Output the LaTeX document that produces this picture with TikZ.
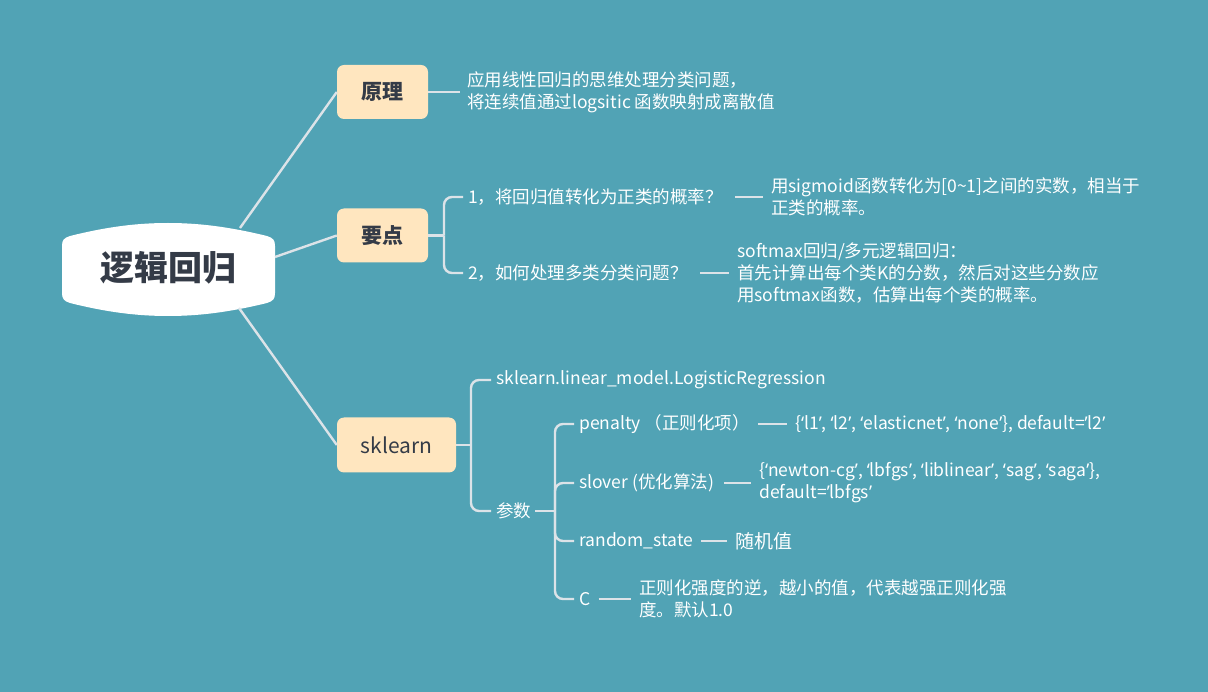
\documentclass[tikz,border=0pt]{standalone}
\usepackage{fontspec}
\setmainfont{Noto Sans CJK SC}
\newfontfamily\qfont{Noto Sans}
\newcommand\myoq{{\qfont ‘}}
\newcommand\mycq{{\qfont ’}}
\usetikzlibrary{calc}
\definecolor{bg}{HTML}{51A3B5}
\definecolor{boxfill}{HTML}{FFE6BF}
\definecolor{dark}{HTML}{343B47}
\definecolor{ln}{HTML}{DCE3E8}
\begin{document}
\begin{tikzpicture}[x=1pt,y=-1pt,
  conn/.style={draw=ln,line width=2.4pt},
  link/.style={conn,shorten <=10pt,shorten >=6pt},
  branch/.style={conn,rounded corners=8pt,shorten >=3pt},
  topic/.style={rectangle,rounded corners=7pt,fill=boxfill,text=dark,minimum height=54pt,inner sep=0pt},
  leaf/.style={text=white,anchor=west,inner sep=2pt,align=left,font=\fontsize{17.5}{22}\selectfont},
]
\fill[bg] (0,0) rectangle (1208,692);
\useasboundingbox (0,0) rectangle (1208,692);

% root shape
\fill[white] (62,246) .. controls (62,240) and (64,238) .. (70,236)
  .. controls (110,226) and (140,223) .. (168,223)
  .. controls (196,223) and (226,226) .. (267,236)
  .. controls (273,238) and (275,240) .. (275,246) -- (275,293)
  .. controls (275,299) and (273,301) .. (267,303)
  .. controls (226,313) and (196,316) .. (168,316)
  .. controls (140,316) and (110,313) .. (70,303)
  .. controls (64,301) and (62,299) .. (62,293) -- cycle;
\node[font=\fontsize{34}{40}\selectfont\bfseries,text=dark] (root) at (168,268) {逻辑回归};
\coordinate (r1) at (240,228);
\coordinate (r2) at (275,257);
\coordinate (r3) at (239,308);

% topics
\node[topic,minimum width=91pt,font=\fontsize{21}{24}\selectfont\bfseries] (yl) at (382.5,92) {原理};
\node[topic,minimum width=91pt,font=\fontsize{21}{24}\selectfont\bfseries] (yd) at (382.5,235.5) {要点};
\node[topic,minimum width=119pt,minimum height=55pt,font=\fontsize{21}{24}\selectfont] (sk) at (396.5,445) {sklearn};

\draw[conn] (r1) -- (yl.west);
\draw[conn] (r2) -- (yd.west);
\draw[conn] (r3) -- (sk.west);

% 原理
\node[leaf] (d0) at (465,92) {应用线性回归的思维处理分类问题，\\将连续值通过logsitic 函数映射成离散值};
\draw[conn,shorten >=5pt] (yl.east) -- (d0.west);

% 要点
\coordinate (j1) at (444,235.5);
\node[leaf] (q1) at (466,197) {1，将回归值转化为正类的概率？};
\node[leaf] (q2) at (466,273) {2，如何处理多类分类问题？};
\draw[conn] (yd.east) -- (j1);
\draw[branch] (j1) |- (q1.west);
\draw[branch] (j1) |- (q2.west);
\node[leaf] (a1) at (769,197) {用sigmoid函数转化为[0\textasciitilde1]之间的实数，相当于\\正类的概率。};
\node[leaf] (a2) at (735,273) {softmax回归/多元逻辑回归：\\首先计算出每个类K的分数，然后对这些分数应\\用softmax函数，估算出每个类的概率。};
\draw[link] (q1.east) -- (a1.west);
\draw[link] (q2.east) -- (a2.west);

% sklearn
\coordinate (j2) at (471,445);
\node[leaf] (s1) at (494,380) {sklearn.linear\_model.LogisticRegression};
\node[leaf] (s2) at (494,511) {参数};
\draw[conn] (sk.east) -- (j2);
\draw[branch] (j2) |- (s1.west);
\draw[branch] (j2) |- (s2.west);

\coordinate (j3) at (555,511);
\draw[conn,shorten <=2pt] (s2.east) -- (j3);
\node[leaf] (p1) at (577,424) {penalty （正则化项）};
\node[leaf] (p2) at (577,483) {slover (优化算法)};
\node[leaf] (p3) at (577,541) {random\_state};
\node[leaf] (p4) at (577,599) {C};
\draw[branch] (j3) |- (p1.west);
\draw[branch] (j3) |- (p2.west);
\draw[branch] (j3) |- (p3.west);
\draw[branch] (j3) |- (p4.west);

\node[leaf] (e1) at (793,424) {\{\myoq l1\mycq, \myoq l2\mycq, \myoq elasticnet\mycq, \myoq none\mycq\}, default=\mycq l2\mycq};
\node[leaf] (e2) at (757,483) {\{\myoq newton-cg\mycq, \myoq lbfgs\mycq, \myoq liblinear\mycq, \myoq sag\mycq, \myoq saga\mycq\},\\default=\mycq lbfgs\mycq};
\node[leaf,font=\fontsize{19}{22}\selectfont] (e3) at (733,541) {随机值};
\node[leaf] (e4) at (637,599) {正则化强度的逆，越小的值，代表越强正则化强\\度。默认1.0};
\draw[link,shorten <=6pt] (p1.east) -- (e1.west);
\draw[link,shorten <=8pt] (p2.east) -- (e2.west);
\draw[link,shorten <=6pt] (p3.east) -- (e3.west);
\draw[link,shorten <=6pt] (p4.east) -- (e4.west);
\end{tikzpicture}
\end{document}
